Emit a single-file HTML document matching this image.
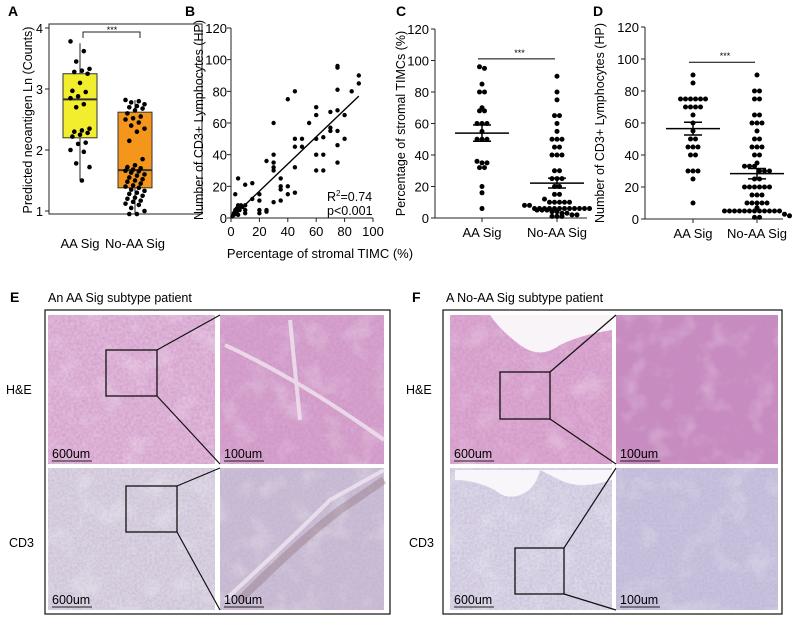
<!DOCTYPE html>
<html><head><meta charset="utf-8"><style>
body{margin:0;background:#fff}
svg{display:block;font-family:"Liberation Sans",Arial,sans-serif}
</style></head><body>
<svg id="fig" width="795" height="630" viewBox="0 0 795 630">
<defs>
<filter id="texHE" x="0" y="0" width="100%" height="100%"><feTurbulence type="fractalNoise" baseFrequency="0.35" numOctaves="2" seed="3"/><feColorMatrix values="0 0 0 0 0.55  0 0 0 0 0.25  0 0 0 0 0.55  0 0 0 1.3 -0.4"/></filter>
<filter id="texCD" x="0" y="0" width="100%" height="100%"><feTurbulence type="fractalNoise" baseFrequency="0.4" numOctaves="2" seed="7"/><feColorMatrix values="0 0 0 0 0.45  0 0 0 0 0.4  0 0 0 0 0.6  0 0 0 1.2 -0.4"/></filter>
<filter id="texBig" x="0" y="0" width="100%" height="100%"><feTurbulence type="fractalNoise" baseFrequency="0.04" numOctaves="3" seed="11"/><feColorMatrix values="0 0 0 0 1  0 0 0 0 1  0 0 0 0 1  0 0 0 1.6 -0.8"/></filter>
</defs>
<g id="charts"></g>
<g id="histo"></g>
</svg>
<script>
// ---- Panel A data ----
const aCats=["AA Sig","No-AA Sig"];
const aAA=[3.78,3.62,3.45,3.33,3.3,3.28,3.25,3.1,2.97,2.95,2.88,2.85,2.75,2.7,2.35,2.32,2.3,2.28,2.25,2.22,2.12,2.1,2.0,1.97,1.78,1.72,1.5];
const aNo=[2.82,2.8,2.78,2.75,2.72,2.7,2.68,2.65,2.6,2.55,2.52,2.5,2.45,2.4,2.35,2.3,2.15,1.85,1.75,1.72,1.7,1.68,1.66,1.65,1.63,1.6,1.58,1.55,1.52,1.5,1.48,1.45,1.42,1.4,1.38,1.35,1.33,1.3,1.28,1.25,1.22,1.2,1.17,1.15,1.12,1.1,1.05,1.0,0.95,0.95];
const aStats=[[1.5,2.2,2.83,3.25,3.75],[0.95,1.38,1.67,2.62,2.82]]; // min,q1,med,q3,max
const aTicks=[1,2,3,4];
// ---- Panel B data ----
const bX=[1,2,3,4,5,6,2,3,3,4,5,5,5,6,7,8,10,10,10,10,15,15,20,20,20,20,25,25,25,30,30,30,30,30,30,35,35,35,35,40,40,40,45,45,45,45,45,50,50,55,60,60,60,60,60,65,65,65,70,70,70,75,75,75,75,75,75,75,80,80,85,90,90];
const bY=[1,2,3,4,5,6,3,15,5,6,25,2,8,5,8,7,5,3,21,8,22,12,15,11,5,3,4,5,36,60,40,35,32,30,10,25,20,18,11,75,20,15,80,50,45,32,16,50,45,60,70,65,50,40,30,51,40,30,67,57,55,96,95,81,68,55,46,35,65,50,80,90,85];
const bTicks=[0,20,40,60,80,100,120];
const bXTicks=[0,20,40,60,80,100];
const bFit=[2,1.5,90,77];
// ---- Panel C data ----
const cCats=["AA Sig","No-AA Sig"];
const cAA=[96,95,85,80,80,70,68,68,60,60,60,55,50,50,50,36,35,35,32,32,20,16,6];
const cNo=[90,80,75,65,65,60,55,50,50,50,45,45,40,40,40,30,30,25,25,25,20,20,15,15,12,10,10,10,10,10,8,8,6,6,6,6,6,6,6,6,6,6,6,6,5,5,5,4,4,3,3,2,2,1,1,1];
const cTicks=[0,20,40,60,80,100,120];
// ---- Panel D data ----
const dCats=["AA Sig","No-AA Sig"];
const dAA=[90,85,75,75,75,75,75,75,70,70,70,70,65,60,55,50,50,45,45,45,40,40,30,30,30,25,10];
const dNo=[90,80,80,75,75,65,65,60,60,60,55,50,50,45,45,45,40,40,35,33,33,33,30,30,30,25,25,20,20,20,20,20,20,15,15,15,10,10,10,10,10,7,5,5,5,5,5,5,5,5,5,5,5,5,3,2,1,1];
const dTicks=[0,20,40,60,80,100,120];

const NS="http://www.w3.org/2000/svg";
const root=document.getElementById('charts');
function el(tag,attrs,parent,txt){const e=document.createElementNS(NS,tag);for(const k in attrs)e.setAttribute(k,attrs[k]);if(txt!==undefined)e.textContent=txt;(parent||root).appendChild(e);return e;}
function lin(d0,d1,r0,r1){return v=>r0+(v-d0)*(r1-r0)/(d1-d0);}
function mean(a){return a.reduce((s,v)=>s+v,0)/a.length;}
function sem(a){const m=mean(a);return Math.sqrt(a.reduce((s,v)=>s+(v-m)*(v-m),0)/(a.length-1))/Math.sqrt(a.length);}

[["A",8,16],["B",185,16],["C",396,16],["D",593,16],["E",10,302],["F",412,302]].forEach(l=>{
 const t=el('text',{x:l[1],y:l[2],'font-size':14,'font-weight':'bold'},root,l[0]);
 
 
});

// ---------- Panel A ----------
(function(){
 const g=el('g',{});
 
 
 const y=lin(1,4,211,28);
 const frame=el('rect',{x:49,y:24,width:153,height:190,fill:'none',stroke:'#222','stroke-width':1},g);
 
 
 aTicks.forEach(t=>{
  el('line',{x1:45,x2:49,y1:y(t),y2:y(t),stroke:'#222'},g);
  const tx=el('text',{x:43,y:y(t)+5,'font-size':12.5,'text-anchor':'end'},g,t);
  
  
 });
 const cx=[80,135], hw=17, fills=['#f2ee2e','#f5961c'];
 [aAA,aNo].forEach((arr,k)=>{
  const s=aStats[k];
  el('line',{x1:cx[k],x2:cx[k],y1:y(s[0]),y2:y(s[4]),stroke:'#222'},g);
  const b=el('rect',{x:cx[k]-hw,y:y(s[3]),width:2*hw,height:y(s[1])-y(s[3]),fill:fills[k],stroke:'#333','stroke-width':1},g);
  
  
  el('line',{x1:cx[k]-hw,x2:cx[k]+hw,y1:y(s[2]),y2:y(s[2]),stroke:'#333','stroke-width':2},g);
  arr.forEach((v,i)=>{
   const j=((i*7)%11-5)*1.9;
   const p=el('circle',{cx:cx[k]+j,cy:y(v),r:2.3,fill:'#000'},g);
   
   
  });
  const lb=el('text',{x:cx[k],y:248,'font-size':13,'text-anchor':'middle'},g,aCats[k]);
  
  
 });
 el('path',{d:'M83,38 V32 H140 V38',fill:'none',stroke:'#222'},g);
 el('text',{x:112,y:33,'font-size':9,'text-anchor':'middle'},g,'***');
 const yt=el('text',{transform:'translate(32,120) rotate(-90)','font-size':12.5,'text-anchor':'middle'},g,'Predicted neoantigen Ln (Counts)');
 
 
})();

// ---------- Panel B ----------
(function(){
 const g=el('g',{});
 
 
 const x=lin(0,100,231,373), y=lin(0,120,218,28);
 el('line',{x1:231,x2:231,y1:28,y2:218,stroke:'#222'},g);
 el('line',{x1:231,x2:373,y1:218,y2:218,stroke:'#222'},g);
 bTicks.forEach(t=>{
  el('line',{x1:227,x2:231,y1:y(t),y2:y(t),stroke:'#222'},g);
  const tx=el('text',{x:227,y:y(t)+5,'font-size':13,'text-anchor':'end'},g,t);
  
  
 });
 bXTicks.forEach(t=>{
  el('line',{x1:x(t),x2:x(t),y1:218,y2:222,stroke:'#222'},g);
  const tx=el('text',{x:x(t),y:236,'font-size':13,'text-anchor':'middle'},g,t);
  
  
 });
 bX.forEach((v,i)=>{
  const p=el('circle',{cx:x(v),cy:y(bY[i]),r:2.2,fill:'#000'},g);
  
  
 });
 const fl=el('line',{x1:x(bFit[0]),y1:y(bFit[1]),x2:x(bFit[2]),y2:y(bFit[3]),stroke:'#000','stroke-width':1.4},g);
 
 
 const r=el('text',{x:327,y:201,'font-size':12.5},g);
 r.innerHTML='R<tspan dy="-5" font-size="8">2</tspan><tspan dy="5">=0.74</tspan>';
 
 
 const pv=el('text',{x:327,y:215,'font-size':12.5},g,'p<0.001');
 
 
 const xt=el('text',{x:320,y:258,'font-size':13,'text-anchor':'middle'},g,'Percentage of stromal TIMC (%)');
 
 
 const yt=el('text',{transform:'translate(203,120) rotate(-90)','font-size':12.5,'text-anchor':'middle'},g,'Number of CD3+ Lymphocytes (HP)');
 
 
})();

// ---------- Dot plots C, D ----------
function dotPlot(name,axX,axR,y0,y120,cx,data,cats,ticks,title,titleX,sigY){
 const g=el('g',{});
 
 
 const y=lin(0,120,y0,y120);
 el('line',{x1:axX,x2:axX,y1:y120,y2:y0,stroke:'#222'},g);
 el('line',{x1:axX,x2:axR,y1:y0,y2:y0,stroke:'#222'},g);
 ticks.forEach(t=>{
  el('line',{x1:axX-4,x2:axX,y1:y(t),y2:y(t),stroke:'#222'},g);
  const tx=el('text',{x:axX-6,y:y(t)+5,'font-size':13,'text-anchor':'end'},g,t);
  
  
 });
 data.forEach((arr,k)=>{
  el('line',{x1:cx[k],x2:cx[k],y1:y0,y2:y0+4,stroke:'#222'},g);
  const bins={};
  arr.forEach(v=>{const b=Math.round(v/3.5);(bins[b]=bins[b]||[]).push(v);});
  Object.keys(bins).forEach(b=>{
   const vs=bins[b];
   vs.forEach((v,i)=>{
    const off=(i-(vs.length-1)/2)*5;
    const p=el('circle',{cx:cx[k]+off,cy:y(v),r:2.5,fill:'#000'},g);
    
    
   });
  });
  const m=mean(arr), s=sem(arr);
  const ml=el('line',{x1:cx[k]-27,x2:cx[k]+27,y1:y(m),y2:y(m),stroke:'#000','stroke-width':1.5},g);
  
  
  el('line',{x1:cx[k],x2:cx[k],y1:y(m+s),y2:y(m-s),stroke:'#000','stroke-width':1.5},g);
  el('line',{x1:cx[k]-9,x2:cx[k]+9,y1:y(m+s),y2:y(m+s),stroke:'#000','stroke-width':1.5},g);
  el('line',{x1:cx[k]-9,x2:cx[k]+9,y1:y(m-s),y2:y(m-s),stroke:'#000','stroke-width':1.5},g);
  const lb=el('text',{x:cx[k],y:y0+19,'font-size':13,'text-anchor':'middle'},g,cats[k]);
  
  
 });
 el('line',{x1:cx[0]-4,x2:cx[1]-2,y1:y(sigY),y2:y(sigY),stroke:'#000'},g);
 el('text',{x:(cx[0]+cx[1])/2,y:y(sigY)-3,'font-size':9,'text-anchor':'middle'},g,'***');
 const yt=el('text',{transform:'translate('+titleX+','+((y0+y120)/2)+') rotate(-90)','font-size':12.5,'text-anchor':'middle'},g,title);
 
 
}
dotPlot('panel-c-dotplot',435,587,218,29,[482,557],[cAA,cNo],cCats,cTicks,'Percentage of stromal TIMCs (%)',405,101);
dotPlot('panel-d-dotplot',645,783,219,27,[693,757],[dAA,dNo],dCats,dTicks,'Number of CD3+ Lymphocytes (HP)',604,98);

// ---------- Histology panels ----------
const H=document.getElementById('histo');
function hel(tag,attrs,txt){return el(tag,attrs,H,txt);}
function tissue(x,y,w,h,base,filt,name){
 const r=hel('rect',{x:x,y:y,width:w,height:h,fill:base});
 
 
 hel('rect',{x:x,y:y,width:w,height:h,filter:'url(#'+filt+')',opacity:0.7});
 hel('rect',{x:x,y:y,width:w,height:h,filter:'url(#texBig)',opacity:0.4});
}
function scale(x,y,t){
 const s=hel('text',{x:x,y:y,'font-size':12.5},t);
 
 
 hel('line',{x1:x,x2:x+40,y1:y+3,y2:y+3,stroke:'#222'});
}
function panel(ox,fx,fr,title,lx,imgs,boxes,extra){
 hel('rect',{x:fx,y:310,width:fr-fx,height:304,fill:'#fff',stroke:'#111','stroke-width':1.2});
 const t=hel('text',{x:lx,y:302,'font-size':12.5},title);
 
 
 const h1=hel('text',{x:ox,y:394,'font-size':12.5},'H&E');
 
 
 const h2=hel('text',{x:ox+3,y:547,'font-size':12.5},'CD3');
 
 
 imgs.forEach(im=>{tissue(im[0],im[1],im[2],im[3],im[4],im[5],im[6]);});
 if(extra)extra();
 imgs.forEach(im=>{scale(im[0]+4,im[1]+im[3]-6,im[7]);});
 boxes.forEach(b=>{
  const r=hel('rect',{x:b[0],y:b[1],width:b[2],height:b[3],fill:'none',stroke:'#111','stroke-width':1.3});
  
  
  hel('line',{x1:b[0]+b[2],y1:b[1],x2:b[4],y2:b[5],stroke:'#111','stroke-width':1.2});
  hel('line',{x1:b[0]+b[2],y1:b[1]+b[3],x2:b[4],y2:b[6],stroke:'#111','stroke-width':1.2});
 });
}
panel(6,45,390,'An AA Sig subtype patient',48,[
 [48,315,167,149,'#e0b6d8','texHE','he-overview-image','600um'],
 [220,315,164,149,'#d6a2cc','texHE','he-zoom-image','100um'],
 [48,468,167,142,'#dad2e0','texCD','cd3-overview-image','600um'],
 [220,468,164,142,'#cbbdd4','texCD','cd3-zoom-image','100um']
],[[106,350,51,46,220,315,464],[126,486,51,46,220,468,610]],function(){
 hel('path',{d:'M225,345 Q300,380 384,440 M290,320 L300,420 M225,600 Q290,540 330,500 L384,470',stroke:'#f0e6f0','stroke-width':4,fill:'none',opacity:0.8});
 hel('path',{d:'M240,600 Q300,540 340,510 L384,480',stroke:'#8a6a70','stroke-width':8,fill:'none',opacity:0.35});
});
panel(406,443,782,'A No-AA Sig subtype patient',446,[
 [450,315,162,149,'#dca8d0','texHE','he-overview-image','600um'],
 [616,315,162,149,'#c88cc0','texHE','he-zoom-image','100um'],
 [450,468,162,142,'#dad4e6','texCD','cd3-overview-image','600um'],
 [616,468,162,142,'#c9c2de','texCD','cd3-zoom-image','100um']
],[[500,372,50,47,616,315,464],[515,548,49,46,616,468,610]],function(){
 hel('path',{d:'M490,315 L612,315 L612,330 Q580,335 560,345 Q540,360 520,345 Q500,330 490,315 Z',fill:'#f8f4f8'});
 hel('path',{d:'M455,470 L540,470 Q535,490 520,495 Q505,500 495,490 Q475,480 455,480 Z',fill:'#f8f6fa'});
 hel('path',{d:'M540,470 L612,470 L612,480 Q580,490 560,480 Z',fill:'#f8f6fa'});
});
</script>
</body></html>
